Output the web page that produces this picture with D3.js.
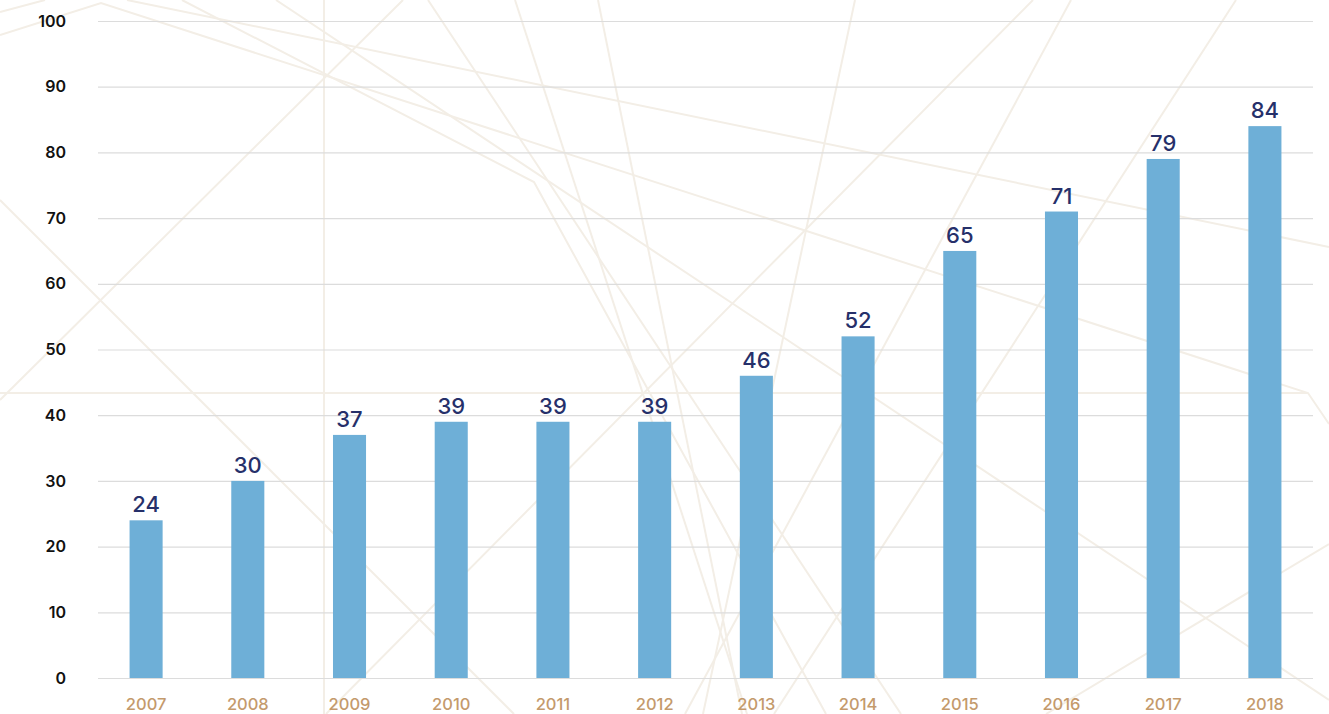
<!DOCTYPE html>
<html>
<head>
<meta charset="utf-8">
<script src="https://cdn.jsdelivr.net/npm/d3@7"></script>
<style>
  html, body { margin: 0; padding: 0; background: #ffffff; }
  svg { display: block; }
</style>
</head>
<body>
<svg id="chart" width="1329" height="714"></svg>
<script>
// ---- data ----
const years = ["2007","2008","2009","2010","2011","2012","2013","2014","2015","2016","2017","2018"];
const values = [24, 30, 37, 39, 39, 39, 46, 52, 65, 71, 79, 84];
const yTicks = [0, 10, 20, 30, 40, 50, 60, 70, 80, 90, 100];

// ---- decorative background strokes (pure ornament, not data) ----
const ornament = [
  [[0,35],[101,3],[1308,393],[1329,424]],
  [[0,12],[45,0]],
  [[127,0],[1329,247]],
  [[324,0],[324,714]],
  [[0,393],[1308,393]],
  [[0,200],[514,714]],
  [[0,400],[403,0]],
  [[182,0],[534,182],[826,714]],
  [[276,0],[1329,700]],
  [[428,0],[901,714]],
  [[515,0],[747,714]],
  [[598,0],[742,714]],
  [[855,0],[703,714]],
  [[1033,0],[326,714]],
  [[1071,0],[685,714]],
  [[1236,0],[774,714]],
  [[1329,544],[1046,714]]
];

const svg = d3.select("#chart");

const x = d3.scaleBand().domain(years).range([96, 1315]).paddingInner(0.675).paddingOuter(0.33);
const y = d3.scaleLinear().domain([0, 100]).range([678, 21]);

// ornament
svg.append("g").selectAll("path").data(ornament).join("path")
  .attr("d", d3.line())
  .attr("fill", "none")
  .attr("stroke", "#f3eee6")
  .attr("stroke-width", 2);

// grid lines
const grid = svg.append("g")
  .attr("transform", "translate(98,0)")
  .call(d3.axisLeft(y).tickValues(yTicks).tickSize(-(1313 - 98)).tickFormat(""));
grid.select(".domain").remove();
grid.selectAll(".tick line").attr("stroke", "#dcdcdc").attr("stroke-width", 1.2);

// y labels
const yAxis = svg.append("g").attr("transform", "translate(66,0)")
  .call(d3.axisLeft(y).tickValues(yTicks).tickSize(0).tickPadding(0));
yAxis.select(".domain").remove();
yAxis.selectAll("text")
  .attr("fill", "#111")
  .style("font-family", "Inter, 'Open Sans', sans-serif")
  .style("font-size", "16px")
  .style("font-weight", "600");

// bars
svg.append("g").selectAll("rect").data(values).join("rect")
  .attr("x", (d, i) => x(years[i]))
  .attr("width", x.bandwidth())
  .attr("y", d => y(d))
  .attr("height", d => y(0) - y(d))
  .attr("fill", "#6eafd7");

// value labels
svg.append("g").selectAll("text").data(values).join("text")
  .attr("x", (d, i) => x(years[i]) + x.bandwidth() / 2)
  .attr("y", d => y(d) - 8)
  .attr("text-anchor", "middle")
  .attr("fill", "#26306a")
  .style("font-family", "Inter, 'Open Sans', sans-serif")
  .style("font-size", "22px")
  .style("font-weight", "500")
  .text(d => d);

// x labels
const xAxis = svg.append("g").attr("transform", "translate(0,698)")
  .call(d3.axisBottom(x).tickSize(0).tickPadding(0));
xAxis.select(".domain").remove();
xAxis.selectAll("text")
  .attr("fill", "#c49a6c")
  .style("font-family", "Inter, 'Open Sans', sans-serif")
  .style("font-size", "16.5px")
  .style("font-weight", "500");
</script>
</body>
</html>
